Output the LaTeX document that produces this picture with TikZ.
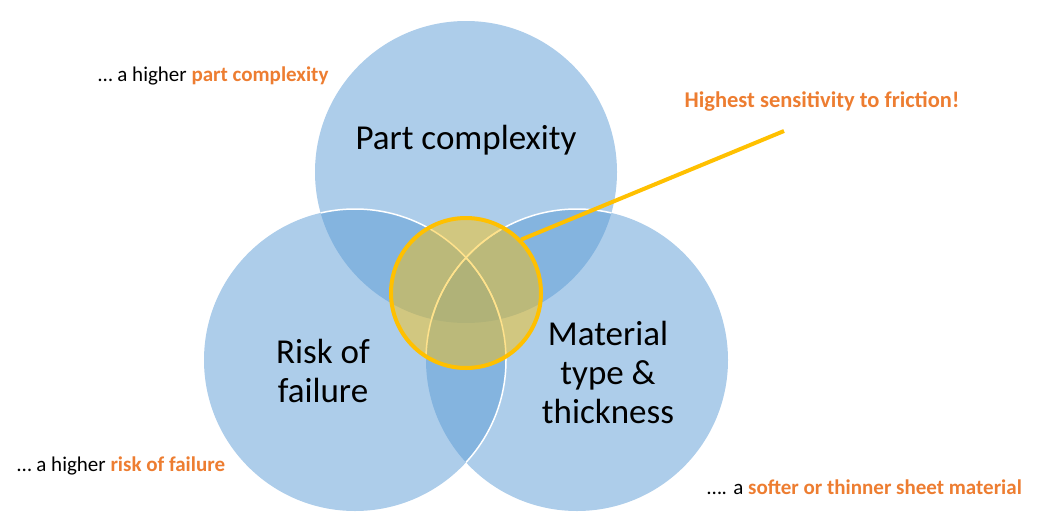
\documentclass[tikz,border=0pt]{standalone}
\usepackage{fontspec}
\setmainfont{Carlito}
\usetikzlibrary{positioning}

\definecolor{vennblue}{HTML}{5B9BD5}
\definecolor{hotyellow}{HTML}{FFC000}
\definecolor{noteorange}{HTML}{ED7D31}
\newcommand{\hl}[1]{\textcolor{noteorange}{\textbf{#1}}}

\begin{document}
\begin{tikzpicture}[
    x=1pt, y=-1pt,
    venn/.style = {circle, fill=vennblue, fill opacity=0.5, minimum size=302pt, inner sep=0pt},
    rim/.style  = {draw=white, line width=1.5pt},
    hot/.style  = {circle, draw=hotyellow, line width=4pt, fill=hotyellow, fill opacity=0.45,
                   draw opacity=1, minimum size=150pt, inner sep=0pt},
    link/.style = {draw=hotyellow, line width=4pt},
    lbl/.style  = {font=\fontsize{35}{39}\selectfont, align=center, text=black},
    note/.style = {font=\fontsize{21}{24}\selectfont, anchor=west, inner sep=0pt},
]
\useasboundingbox (0,0) rectangle (1039,517);

% the three sets
\node[venn] (top)   at (466,172) {};
\node[venn] (right) at (577,360) {};
\node[venn] (left)  at (355,360) {};

% white rims where the sets overlap
\begin{scope}
  \clip (top.center) circle[radius=151pt];
  \draw[rim] (left.center)  circle[radius=151pt];
  \draw[rim] (right.center) circle[radius=151pt];
\end{scope}
\begin{scope}
  \clip (right.center) circle[radius=151pt];
  \draw[rim] (left.center) circle[radius=151pt];
\end{scope}
\begin{scope}
  \clip (466,293) circle[radius=76pt];
  \draw[rim] (right.center) circle[radius=151pt];
\end{scope}

% hot spot in the middle
\node[hot] (hot) at (466,293) {};
\coordinate (tip) at (784,131);
\draw[link] (hot.44) -- (tip);

\node[lbl] (toplbl)   at (466,140) {Part complexity};
\node[lbl] (leftlbl)  at (323,371) {Risk of\\failure};
\node[lbl] (rightlbl) at (608,372) {Material\\type \&\\thickness};

\node[note]                (topnote)   at (98,76)   {… a higher \hl{part complexity}};
\node[note, anchor=center, font=\fontsize{22.5}{26}\selectfont]
                           (hotnote)   at (822,101) {\hl{Highest sensitivity to friction!}};
\node[note]                (leftnote)  at (17,466)  {… a higher \hl{risk of failure}};
\node[note]                (rightnote) at (707,487) {…. a \hl{softer or thinner sheet material}};

\end{tikzpicture}
\end{document}
